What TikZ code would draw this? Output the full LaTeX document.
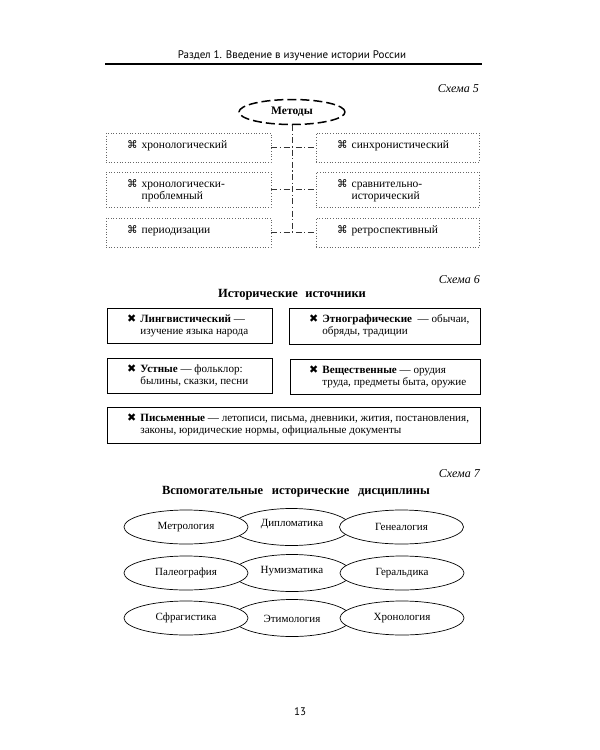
\documentclass[tikz,border=0pt]{standalone}
\usepackage{fontspec}
\setmainfont{Liberation Serif}[BoldFont={Liberation Serif Bold},ItalicFont={Liberation Serif Italic}]
\newfontfamily\hdrfont{PT Sans}
\newfontfamily\symfont{DejaVu Sans}
\usetikzlibrary{shapes.geometric}

\newcommand\msym{{\symfont\fontsize{10.5}{10.5}\selectfont ⌘}}
\newcommand\xsym{{\symfont\fontsize{11}{11}\selectfont ✖}}
\newcommand\hangtxt[3]{\begin{tabular}{@{}l@{\hspace{4pt}}l@{}}#1&#2\\&#3\end{tabular}}

\tikzset{
  body/.style={font=\fontsize{11.5}{12.5}\selectfont, inner sep=0pt},
  srcbody/.style={font=\fontsize{11.1}{12.8}\selectfont, inner sep=0pt},
  dotbox/.style={draw=black!60, dotted, line width=0.7pt, inner sep=0pt},
  dashdot/.style={draw=black!80, line width=0.7pt, dash pattern=on 6pt off 2.5pt on 1.2pt off 2.5pt},
  methell/.style={ellipse, draw, line width=1.5pt, dash pattern=on 9pt off 4pt, inner sep=0pt,
    minimum width=106pt, minimum height=25pt, font=\fontsize{11.5}{12}\selectfont\bfseries},
  srcbox/.style={draw, line width=0.9pt, inner sep=0pt},
  disc/.style={ellipse, draw, fill=white, line width=0.7pt, inner sep=0pt, font=\fontsize{11}{12}\selectfont},
  disctxt/.style={font=\fontsize{11}{12}\selectfont, inner sep=0pt},
  schema/.style={anchor=east, font=\fontsize{12}{14}\selectfont\itshape, inner sep=0pt},
  ttl/.style={font=\fontsize{12.5}{14}\selectfont\bfseries, inner sep=0pt}
}

\begin{document}
\begin{tikzpicture}[x=1pt,y=-1pt]
\useasboundingbox[fill=white] (0,0) rectangle (600,750);

% header
\node[font=\hdrfont\fontsize{11}{13}\selectfont, inner sep=0pt] (hdr) at (292,56) {Раздел 1. Введение в изучение истории России};
\coordinate (hl) at (105,64);
\coordinate (hr) at (482,64);
\draw[line width=1.3pt] (hl) -- (hr);

% ===== Schema 5 =====
\node[schema] (s5) at (479,89) {Схема 5};
\node[methell] (met) at (292,112) {Методы};

\node[dotbox, minimum width=165pt, minimum height=29pt] (L1) at (188.5,147.5) {};
\node[dotbox, minimum width=165pt, minimum height=35pt] (L2) at (188.5,189.5) {};
\node[dotbox, minimum width=165pt, minimum height=29pt] (L3) at (188.5,232.5) {};
\node[dotbox, minimum width=163pt, minimum height=29pt] (R1) at (397.5,147.5) {};
\node[dotbox, minimum width=163pt, minimum height=35pt] (R2) at (397.5,189.5) {};
\node[dotbox, minimum width=163pt, minimum height=29pt] (R3) at (397.5,232.5) {};

\node[body, anchor=west] (tL1) at (127,146) {\msym\hspace{4pt}хронологический};
\node[body, anchor=west] (tL2) at (127,191) {\hangtxt{\msym}{хронологически-}{проблемный}};
\node[body, anchor=west] (tL3) at (127,231) {\msym\hspace{4pt}периодизации};
\node[body, anchor=west] (tR1) at (337,146) {\msym\hspace{4pt}синхронистический};
\node[body, anchor=west] (tR2) at (337,191) {\hangtxt{\msym}{сравнительно-}{исторический}};
\node[body, anchor=west] (tR3) at (337,231) {\msym\hspace{4pt}ретроспективный};

\coordinate (vbot) at (met.south |- L3.east);
\draw[dashdot] (met.south) -- (vbot);
\draw[dashdot] (L1.east) -- (R1.west);
\draw[dashdot] (L2.east) -- (R2.west);
\draw[dashdot] (L3.east) -- (R3.west);

% ===== Schema 6 =====
\node[schema] (s6) at (480,280) {Схема 6};
\node[ttl] (t6) at (292,295) {Исторические\hspace{0.35em} источники};

\node[srcbox, minimum width=165pt, minimum height=35pt] (B1) at (189.5,325.5) {};
\node[srcbox, minimum width=191pt, minimum height=36pt] (B2) at (384.5,326) {};
\node[srcbox, minimum width=165pt, minimum height=35pt] (B3) at (189.5,375.5) {};
\node[srcbox, minimum width=190pt, minimum height=35pt] (B4) at (385,376.5) {};
\node[srcbox, minimum width=373pt, minimum height=36pt] (B5) at (293.5,425) {};

\node[srcbody, anchor=west] (tB1) at (127,326) {\hangtxt{\xsym}{\textbf{Лингвистический} —}{изучение языка народа}};
\node[srcbody, anchor=west] (tB2) at (309,326) {\hangtxt{\xsym}{\textbf{Этнографические}\hspace{0.5em}— обычаи,}{обряды, традиции}};
\node[srcbody, anchor=west] (tB3) at (127,376) {\hangtxt{\xsym}{\textbf{Устные} — фольклор:}{былины, сказки, песни}};
\node[srcbody, anchor=west] (tB4) at (309,377) {\hangtxt{\xsym}{\textbf{Вещественные} — орудия}{труда, предметы быта, оружие}};
\node[srcbody, anchor=west] (tB5) at (127,425) {\hangtxt{\xsym}{\textbf{Письменные} — летописи, письма, дневники, жития, постановления,}{законы, юридические нормы, официальные документы}};

% ===== Schema 7 =====
\node[schema] (s7) at (480,474) {Схема 7};
\node[ttl] (t7) at (296,492) {Вспомогательные\hspace{0.45em} исторические\hspace{0.45em} дисциплины};

\node[disc, minimum width=118pt, minimum height=37pt] (D2) at (291.5,527) {};
\node[disc, minimum width=118pt, minimum height=37pt] (D5) at (292,573) {};
\node[disc, minimum width=118pt, minimum height=37pt] (D8) at (292,618) {};
\node[disc, minimum width=124pt, minimum height=34pt] (D1) at (186,527) {Метрология};
\node[disc, minimum width=124pt, minimum height=34pt] (D3) at (401.5,527) {Генеалогия};
\node[disc, minimum width=124pt, minimum height=34pt] (D4) at (186,573) {Палеография};
\node[disc, minimum width=124pt, minimum height=34pt] (D6) at (402,573) {Геральдика};
\node[disc, minimum width=124pt, minimum height=34pt] (D7) at (186,618) {Сфрагистика};
\node[disc, minimum width=124pt, minimum height=34pt] (D9) at (402,618) {Хронология};
\node[disctxt] (D2t) at (292,524.5) {Дипломатика};
\node[disctxt] (D5t) at (292,571) {Нумизматика};
\node[disctxt] (D8t) at (292,618.5) {Этимология};

% page number
\node[font=\hdrfont\fontsize{11}{13}\selectfont, inner sep=0pt] (pg) at (300,712) {13};
\end{tikzpicture}
\end{document}
